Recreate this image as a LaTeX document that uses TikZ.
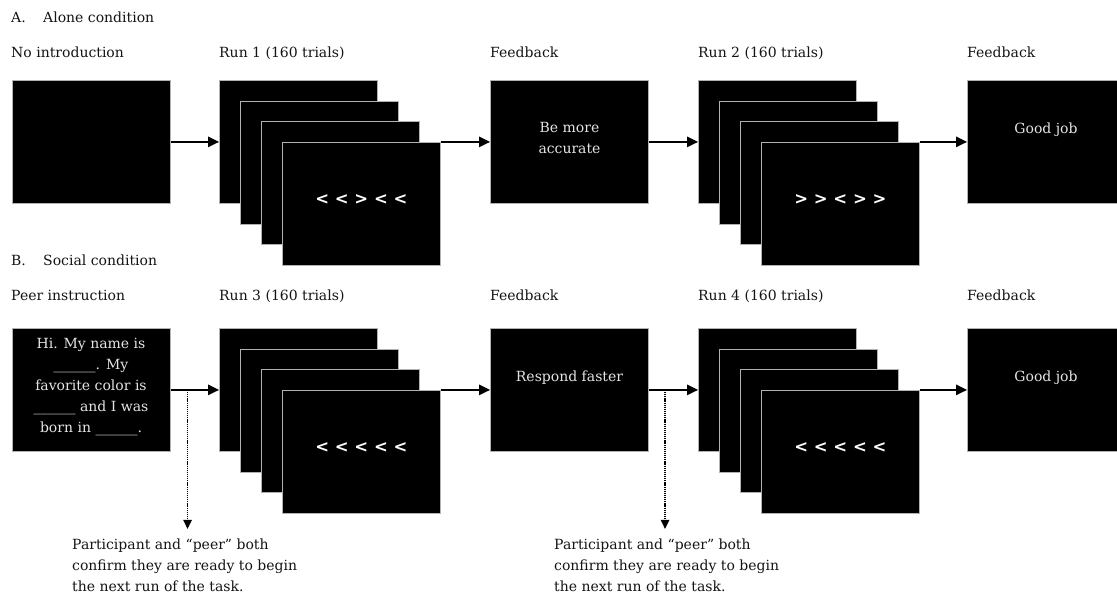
\documentclass[tikz,border=0pt]{standalone}
\usepackage{fontspec}
\setmainfont{DejaVu Serif}
\newfontfamily\chevfont{DejaVu Sans}
\usetikzlibrary{arrows.meta,calc}
\begin{document}
\begin{tikzpicture}[x=1pt,y=-1pt,
  screen/.style={draw=black!30, line width=0.8pt, fill=black, minimum width=158pt,
    minimum height=123pt, inner sep=0pt, anchor=north west},
  lbl/.style={anchor=base west, inner sep=0pt, text=black!92,
    font=\fontsize{14}{17}\selectfont},
  scrtxt/.style={anchor=north, inner sep=0pt, text=white!90!black, align=center,
    font=\fontsize{14}{21}\selectfont},
  note/.style={anchor=north west, inner sep=0pt, text=black!92, align=left,
    font=\fontsize{14}{21}\selectfont},
  chev/.style={inner sep=0pt, text=white, font=\chevfont\bfseries\fontsize{16.5}{16.5}\selectfont},
  arr/.style={line width=1.2pt, -{Triangle[length=11pt,width=10.5pt]}},
  dotarr/.style={line width=1.1pt, dash pattern=on 1.2pt off 0.9pt,
    -{Triangle[length=9pt,width=8.5pt]}}
]
\useasboundingbox (0,0) rectangle (1117,595);

\newcommand\cardstack[4]{%
  \node[screen] (#1a) at (#2,#3) {};
  \node[screen] (#1b) at ({#2+21},{#3+20.5}) {};
  \node[screen] (#1c) at ({#2+42},{#3+41}) {};
  \node[screen] (#1d) at ({#2+63},{#3+61.5}) {};
  \node[chev] (#1t) at ($(#1d.center)+(0,-3.5)$) {#4};
}

% ---------------- Panel A ----------------
\node[lbl] (Ahead) at (11,22.3) {A.};
\node[lbl] (Atitle) at (43,22.3) {Alone condition};
\node[lbl] (Al1) at (11,57.3) {No introduction};
\node[lbl] (Al2) at (219,57.3) {Run 1 (160 trials)};
\node[lbl] (Al3) at (490,57.3) {Feedback};
\node[lbl] (Al4) at (698,57.3) {Run 2 (160 trials)};
\node[lbl] (Al5) at (967,57.3) {Feedback};

\node[screen] (a0) at (12,80) {};
\cardstack{ra}{219}{80}{< < > < <}
\node[screen] (fa1) at (490,80) {};
\node[scrtxt] (fa1t) at (569.5,122.5) {Be more\\accurate};
\cardstack{rb}{698}{80}{> > < > >}
\node[screen] (fa2) at (967,80) {};
\node[scrtxt] (fa2t) at (1046,122.5) {Good job};

\draw[arr] (a0.east) -- (raa.west);
\draw[arr] (rad.east |- fa1.west) -- (fa1.west);
\draw[arr] (fa1.east) -- (rba.west);
\draw[arr] (rbd.east |- fa2.west) -- (fa2.west);

% ---------------- Panel B ----------------
\node[lbl] (Bhead) at (11,265) {B.};
\node[lbl] (Btitle) at (43,265) {Social condition};
\node[lbl] (Bl1) at (11,300) {Peer instruction};
\node[lbl] (Bl2) at (219,300) {Run 3 (160 trials)};
\node[lbl] (Bl3) at (490,300) {Feedback};
\node[lbl] (Bl4) at (698,300) {Run 4 (160 trials)};
\node[lbl] (Bl5) at (967,300) {Feedback};

\node[screen] (p0) at (12,328) {};
\node[scrtxt] (p0t) at (91,337.5) {Hi. My name is\\\_\_\_\_\_\_. My\\favorite color is\\\_\_\_\_\_\_ and I was\\born in \_\_\_\_\_\_.};
\cardstack{rc}{219}{328}{< < < < <}
\node[screen] (fb1) at (490,328) {};
\node[scrtxt] (fb1t) at (569.5,370.5) {Respond faster};
\cardstack{rd}{698}{328}{< < < < <}
\node[screen] (fb2) at (967,328) {};
\node[scrtxt] (fb2t) at (1046,370.5) {Good job};

\draw[arr] (p0.east) -- (rca.west);
\draw[arr] (rcd.east |- fb1.west) -- (fb1.west);
\draw[arr] (fb1.east) -- (rda.west);
\draw[arr] (rdd.east |- fb2.west) -- (fb2.west);

\coordinate (d1) at ($(p0.east)!0.347!(rca.west)$);
\coordinate (d1e) at ($(d1)+(0,139)$);
\coordinate (d2) at ($(fb1.east)!0.33!(rda.west)$);
\coordinate (d2e) at ($(d2)+(0,139)$);
\draw[dotarr] (d1) -- (d1e);
\draw[dotarr] (d2) -- (d2e);

\node[note] (n1) at (72,538.5) {Participant and “peer” both\\confirm they are ready to begin\\the next run of the task.};
\node[note] (n2) at (554,538.5) {Participant and “peer” both\\confirm they are ready to begin\\the next run of the task.};
\end{tikzpicture}
\end{document}
